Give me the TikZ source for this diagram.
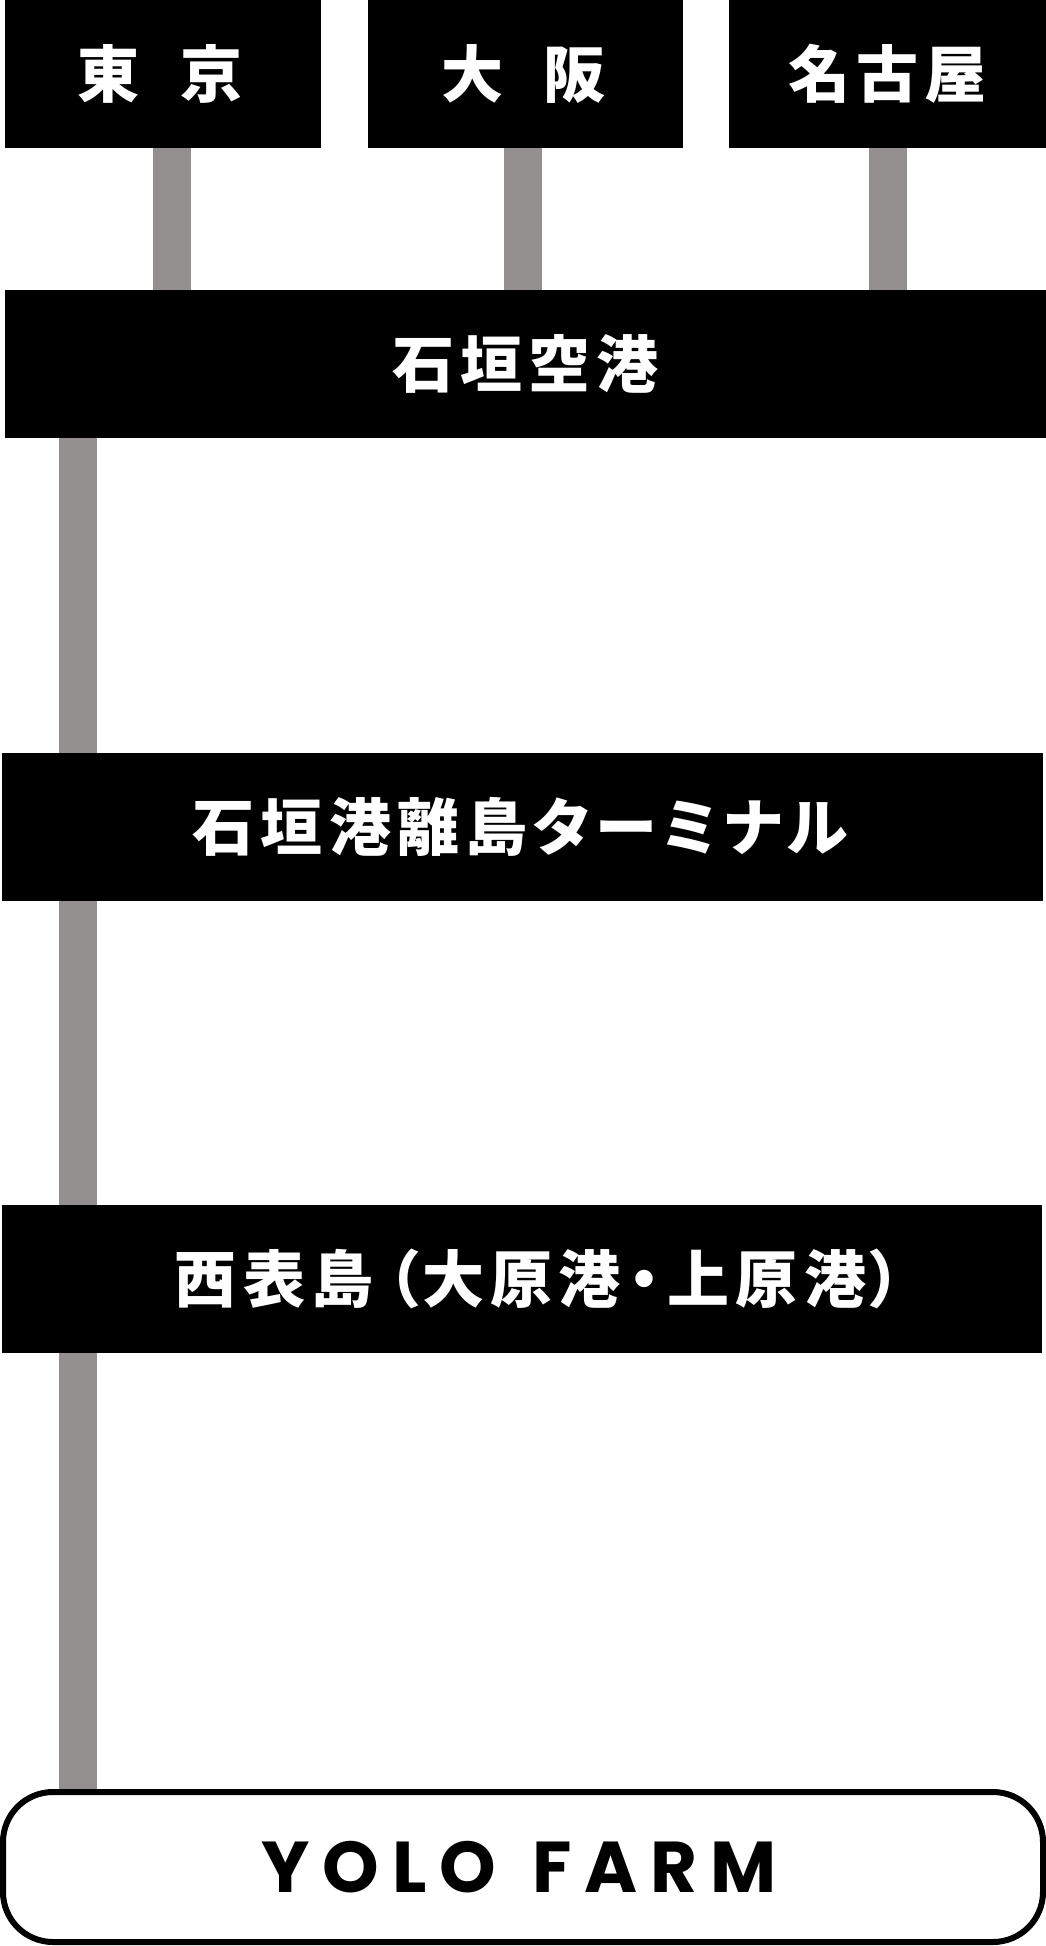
\documentclass[tikz,border=0pt]{standalone}
\usepackage{fontspec}
\usepackage{tikz}
\newfontfamily\jpfont{Noto Sans CJK JP}[RawFeature=+palt,LetterSpace=10]
\newfontfamily\cityfont{Noto Sans CJK JP}[RawFeature=+palt]
\newfontfamily\farmfont{Poppins}[LetterSpace=18]
\definecolor{linkgray}{RGB}{148,143,143}

\begin{document}
\begin{tikzpicture} [x=1pt,y=-1pt,
			place/.style={fill=black,text=white,inner sep=0pt,minimum height=148pt,font=\jpfont\bfseries\fontsize{62}{62}\selectfont},
			city/.style={place,font=\cityfont\bfseries\fontsize{62}{62}\selectfont},
			link/.style={draw=linkgray,line width=38pt},
			farm/.style={draw=black,line width=6pt,rounded corners=50pt,inner sep=0pt,minimum width=1040pt,minimum height=150pt,font=\farmfont\bfseries\fontsize{72}{72}\selectfont}]
			\useasboundingbox (0,0) rectangle (1046,1946);
			
			% departure cities
			\node[city,minimum width=316pt] (tokyo) at (163,74) {\hspace{-6pt}東\hspace{42pt}京};
			\node[city,minimum width=315pt] (osaka) at (525.5,74) {\hspace{-4pt}大\hspace{40pt}阪};
			\node[place,minimum width=317pt] (nagoya) at (887.5,74) {名古屋};
			
			% stops
			\node[place,minimum width=1041pt] (airport) at (525.5,364) {石垣空港};
			\node[place,minimum width=1041pt] (terminal) at (522.5,827) {\hspace{-4pt}石垣港離島ターミナル};
			\node[place,minimum width=1040pt] (iriomote) at (522,1279) {\hspace{32pt}西表島\hspace{14pt}（\hspace{4pt}大原港\hspace{8pt}・\hspace{8pt}上原港\hspace{4pt}）};
			\node[farm] (yolo) at (523,1867) {\hspace{-8pt}YOLO\hspace{8pt} FARM};
			
			% connectors
			\coordinate (tk) at (172,0);
			\coordinate (os) at (522.5,0);
			\coordinate (ng) at (888,0);
			\coordinate (trunk) at (77.5,0);
			\draw[link] (tk |- tokyo.south) -- (tk |- airport.north);
			\draw[link] (os |- osaka.south) -- (os |- airport.north);
			\draw[link] (ng |- nagoya.south) -- (ng |- airport.north);
			\draw[link] (trunk |- airport.south) -- (trunk |- terminal.north);
			\draw[link] (trunk |- terminal.south) -- (trunk |- iriomote.north);
			\draw[link] (trunk |- iriomote.south) -- (trunk |- yolo.north);
			\end{tikzpicture}
\end{document}
